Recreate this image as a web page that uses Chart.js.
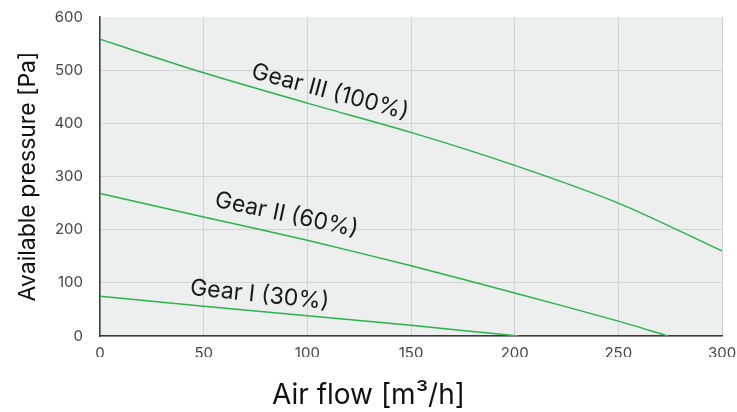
<!DOCTYPE html>
<html>
<head>
<meta charset="utf-8">
<script src="https://cdn.jsdelivr.net/npm/chart.js@4/dist/chart.umd.min.js"></script>
<style>
  html, body { margin: 0; padding: 0; background: #fff; }
  #wrap { width: 737px; height: 412px; }
</style>
</head>
<body>
<div id="wrap"><canvas id="myChart"></canvas></div>
<script>
"use strict";

// air flow [m3/h] and pressure [Pa]
const flowGear3 = [0, 50, 100, 150, 200, 250, 300];
const pressGear3 = [558, 495, 438, 383, 321, 250, 160];
const flowGear2 = [0, 50, 100, 150, 200, 250, 274];
const pressGear2 = [268, 224, 180, 132, 81, 28, 0];
const flowGear1 = [0, 50, 100, 150, 202];
const pressGear1 = [75, 56, 38, 20, 0];
const gearNames = ['Gear III (100%)', 'Gear II (60%)', 'Gear I (30%)'];
const xTicks = [0, 50, 100, 150, 200, 250, 300];
const yTicks = [0, 100, 200, 300, 400, 500, 600];
const xTitle = 'Air flow [m³/h]';
const yTitle = 'Available pressure [Pa]';

const lineColor = '#2bb24c';
const fontName = "Inter, 'Noto Sans', sans-serif";

function toPoints(xs, ys) {
    const pts = [];
    for (let i = 0; i < xs.length; i++) {
        pts.push({ x: xs[i], y: ys[i] });
    }
    return pts;
}

// label places: [flow, pressure, angle in degrees]
const labelSpots = [
    [111, 459, 15],
    [90, 228, 12],
    [77, 77, 6]
];

const plotBack = {
    id: 'plotBack',
    beforeDraw(chart) {
        const a = chart.chartArea;
        const ctx = chart.ctx;
        ctx.save();
        ctx.fillStyle = '#edeeee';
        ctx.fillRect(a.left, a.top, a.right - a.left, a.bottom - a.top);
        ctx.restore();
    }
};

const gearLabels = {
    id: 'gearLabels',
    afterDatasetsDraw(chart) {
        const ctx = chart.ctx;
        const xs = chart.scales.x;
        const ys = chart.scales.y;
        ctx.save();
        ctx.fillStyle = '#1a1a1a';
        ctx.font = "23px " + fontName;
        ctx.textAlign = 'center';
        ctx.textBaseline = 'middle';
        for (let i = 0; i < gearNames.length; i++) {
            const s = labelSpots[i];
            ctx.save();
            ctx.translate(xs.getPixelForValue(s[0]), ys.getPixelForValue(s[1]));
            ctx.rotate(s[2] * Math.PI / 180);
            ctx.fillText(gearNames[i], 0, 0);
            ctx.restore();
        }
        // x title sits in the middle of the page, not under the plot
        ctx.fillStyle = '#111';
        ctx.font = "28px " + fontName;
        ctx.fillText(xTitle, chart.width / 2, chart.height - 16);
        ctx.restore();
    }
};

const ctx = document.getElementById('myChart').getContext('2d');
new Chart(ctx, {
    type: 'line',
    data: {
        datasets: [
            { label: gearNames[0], data: toPoints(flowGear3, pressGear3) },
            { label: gearNames[1], data: toPoints(flowGear2, pressGear2) },
            { label: gearNames[2], data: toPoints(flowGear1, pressGear1) }
        ].map(function (d) {
            d.borderColor = lineColor;
            d.borderWidth = 1.5;
            d.pointRadius = 0;
            d.fill = false;
            d.tension = 0.3;
            return d;
        })
    },
    options: {
        responsive: true,
        maintainAspectRatio: false,
        animation: false,
        layout: { autoPadding: false, padding: { top: 17, right: 15, left: 0, bottom: 55 } },
        plugins: {
            legend: { display: false },
            tooltip: { enabled: false }
        },
        scales: {
            x: {
                type: 'linear',
                min: 0,
                max: 300,
                afterBuildTicks(axis) { axis.ticks = xTicks.map(v => ({ value: v })); },
                afterFit(axis) {
                    axis.height = 21;
                    axis.paddingLeft = 0;
                    axis.paddingRight = 0;
                },
                ticks: { color: '#444', font: { size: 15, family: fontName }, padding: 8 },
                grid: { color: '#d2d2d2', lineWidth: 1, drawTicks: false },
                border: { color: '#3a3a3a', width: 1.5 }
            },
            y: {
                min: 0,
                max: 600,
                afterBuildTicks(axis) { axis.ticks = yTicks.map(v => ({ value: v })); },
                afterFit(axis) {
                    axis.width = 100;
                    axis.paddingTop = 0;
                    axis.paddingBottom = 0;
                },
                ticks: { color: '#444', font: { size: 15, family: fontName }, padding: 17 },
                grid: {
                    color: c => (c.tick && c.tick.value === 600 ? 'rgba(0,0,0,0)' : '#d2d2d2'),
                    lineWidth: 1,
                    drawTicks: false
                },
                border: { color: '#3a3a3a', width: 1.5 },
                title: {
                    display: true,
                    text: yTitle,
                    color: '#111',
                    font: { size: 23, family: fontName },
                    padding: { top: 14, bottom: 0 }
                }
            }
        }
    },
    plugins: [plotBack, gearLabels]
});
</script>
</body>
</html>
